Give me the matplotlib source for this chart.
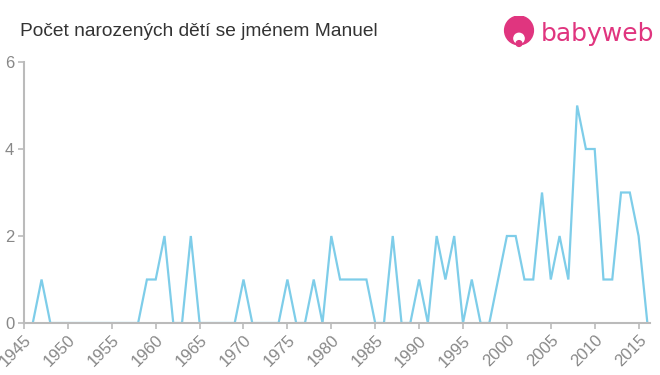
import matplotlib.pyplot as plt
from matplotlib.patches import Circle

plt.rcParams['font.family'] = ['Liberation Sans', 'DejaVu Sans']

# data
years = list(range(1946, 2017))
counts = [0, 1, 0, 0, 0, 0, 0, 0, 0, 0, 0, 0, 0, 1, 1, 2, 0, 0, 2, 0,
          0, 0, 0, 0, 1, 0, 0, 0, 0, 1, 0, 0, 1, 0, 2, 1, 1, 1, 1, 0,
          0, 2, 0, 0, 1, 0, 2, 1, 2, 0, 1, 0, 0, 1, 2, 2, 1, 1, 3, 1,
          2, 1, 5, 4, 4, 1, 1, 3, 3, 2, 0]
xticks = list(range(1945, 2016, 5))
yticks = [0, 2, 4, 6]

title = "Počet narozených dětí se jménem Manuel"

fig = plt.figure(figsize=(6.6, 3.75), dpi=100)
ax = fig.add_axes([24 / 660, 1 - 323 / 375, 626 / 660, 261 / 375])

ax.plot(years, counts, color="#7ecde9", lw=1.6, solid_joinstyle="miter")

ax.set_xlim(1945, 2016.3)
ax.set_ylim(0, 6)
ax.set_xticks(xticks)
ax.set_yticks(yticks)
ax.set_xticklabels([str(y) for y in xticks], rotation=45, ha="right",
                   rotation_mode="anchor")

for s in ["top", "right"]:
    ax.spines[s].set_visible(False)
for s in ["left", "bottom"]:
    ax.spines[s].set_color("#bbbbbb")
    ax.spines[s].set_linewidth(1.5)

ax.tick_params(colors="#bbbbbb", labelcolor="#888888", labelsize=12,
               length=4, width=1.2)
ax.tick_params(axis="x", pad=3)
ax.tick_params(axis="y", pad=3)

fig.text(20 / 660, 1 - 31 / 375, title, fontsize=13.8, color="#333333",
         va="center", ha="left")

# babyweb logo
logo = fig.add_axes([503 / 660, 1 - 48 / 375, 32 / 660, 32 / 375])
logo.set_xlim(0, 1)
logo.set_ylim(0, 1)
logo.set_aspect("equal")
logo.axis("off")
logo.add_patch(Circle((0.5, 0.55), 0.45, color="#e0357f"))
logo.add_patch(Circle((0.5, 0.3), 0.16, color="white"))
logo.add_patch(Circle((0.5, 0.14), 0.09, color="#e0357f"))
fig.text(541 / 660, 1 - 34 / 375, "babyweb", fontsize=18, color="#e0357f",
         family="DejaVu Sans", va="center", ha="left")

fig.savefig("out.png", dpi=100)
